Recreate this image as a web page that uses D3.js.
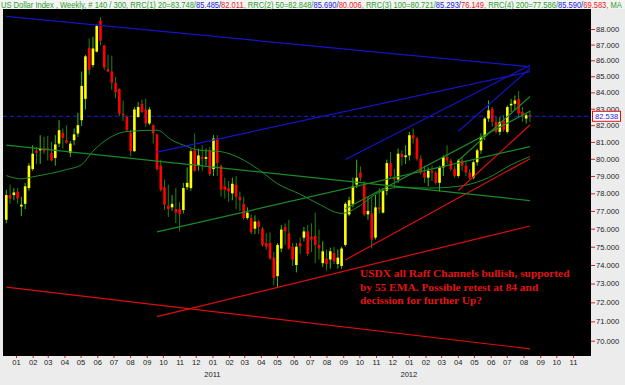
<!DOCTYPE html>
<html>
<head>
  <title>US Dollar Index Weekly</title>
  <script src="https://d3js.org/d3.v7.min.js"></script>
  <style>
    body { margin: 0; background: #ececec; }
    svg { display: block; }
  </style>
</head>
<body>
  <div id="chart"></div>
  <script>
    // weekly bars, Monday dates starting here
    const firstBar = new Date(2009, 11, 14);

    const opens = [76.5,77.9,77.9,78.1,77.25,77.4,78.3,79.4,80.5,80.5, 80.6,80.6,80.35,80.05,80.9,81.55,81.1,80.35,81.1,81.5,
      82.3,83.6,86.8,85.7,86.55,88.55,86.95,85.45,85.3,84.6, 84.2,82.7,82.5,81.55,80.45,82.5,83.3,82.95,82.1,82.0,
      81.45,79.6,78.35,77.3,77.2,77.1,77.1,77.05,78.35,78.3, 80.5,79.6,80.1,80.0,80.5,79.4,81.2,79.6,78.4,78.3,
      78.0,78.5,77.8,77.4,76.6,76.6,76.0,76.4,76.0,75.2, 75.2,74.4,73.4,74.9,76.1,75.75,75.0,74.0,75.2,75.5,
      75.85,75.55,75.6,75.1,74.1,74.35,74.3,74.65,74.05,73.95, 75.1,76.8,77.4,78.5,79.2,78.5,76.8,76.85,75.5,77.2,
      76.9,78.15,79.75,78.9,78.8,80.3,80.1,80.2,81.4,81.2, 80.0,79.2,78.9,79.3,79.2,78.6,79.5,80.1,79.9,79.4,
      79.0,79.9,79.6,79.2,78.9,79.8,80.5,81.3,82.4,83.0, 82.2,81.6,82.3,81.6,83.2,83.3,83.6,82.8,82.4,82.6];
    const highs = [78.2,78.5,78.3,78.3,77.8,78.6,79.75,80.8,80.7,81.4, 81.3,81.35,81.0,81.4,82.3,81.8,82.0,81.05,81.8,82.75,
      85.3,86.35,87.4,87.5,88.3,88.76,86.98,86.35,86.3,84.95, 84.25,83.5,82.6,81.7,83.1,83.4,83.55,83.6,83.1,82.05,
      81.5,79.95,78.8,78.5,77.9,78.3,77.5,78.6,79.5,80.6, 81.5,80.6,80.8,80.6,80.7,81.4,81.4,79.65,78.9,78.7,
      78.9,79.0,78.1,77.8,77.2,76.8,76.75,76.5,76.1,75.75, 75.8,74.7,75.2,76.2,76.3,76.5,75.2,75.2,75.5,76.1,
      76.2,76.3,76.9,75.95,75.3,74.85,74.95,75.0,74.85,75.0, 77.5,77.8,78.9,79.95,79.55,78.7,77.8,77.8,77.9,78.3,
      78.3,79.95,80.4,79.4,80.6,80.5,80.8,81.6,81.8,81.3, 80.2,79.6,79.5,79.6,79.3,79.6,80.2,80.8,80.0,79.6,
      80.0,80.1,79.9,79.4,79.9,80.6,81.5,82.5,83.5,83.1, 82.5,82.5,82.6,83.2,83.6,83.8,84.1,83.1,82.7,82.9];
    const lows = [76.3,77.4,77.6,77.4,76.7,77.1,78.15,79.3,79.7,79.7, 80.3,79.9,79.85,79.6,80.7,80.6,80.9,80.1,80.8,81.3,
      81.95,82.95,85.1,85.55,86.5,86.95,85.4,85.25,84.15,83.65, 82.55,82.25,81.6,80.15,80.4,82.45,82.75,81.9,82.0,80.9,
      79.3,78.1,77.05,76.65,77.0,76.3,75.85,76.85,78.2,78.15, 79.25,79.3,79.3,79.6,79.0,79.0,79.0,77.8,77.7,77.5,
      77.6,77.1,77.0,76.5,76.5,75.7,75.7,75.7,75.0,74.85, 74.3,72.9,72.75,74.7,75.1,74.85,73.95,73.6,74.6,75.3,
      74.5,74.7,74.1,74.3,73.9,73.7,73.8,74.05,73.8,73.8, 75.0,76.7,77.2,78.3,78.7,76.7,76.5,74.9,75.4,76.85,
      76.85,77.9,78.9,78.3,78.6,79.6,79.7,79.9,80.9,79.9, 79.1,78.6,78.4,78.7,78.5,78.1,79.0,79.7,79.3,78.9,
      78.9,79.3,79.0,78.8,78.8,79.6,80.3,81.1,82.2,81.9, 81.5,81.4,81.6,81.5,82.8,82.9,82.5,82.2,82.1,82.2];
    const closes = [77.9,77.7,78.05,77.7,77.35,78.4,79.6,80.3,80.35,80.6, 80.45,80.5,79.9,80.85,81.7,81.25,80.95,80.9,81.45,82.0,
      84.4,86.25,85.4,86.75,88.2,87.25,85.55,85.3,84.6,84.0, 82.7,82.6,81.7,80.45,82.95,83.1,82.8,82.1,82.95,81.5,
      79.4,78.2,77.35,77.1,77.4,76.9,76.8,78.3,78.6,80.45, 79.3,80.2,80.0,80.1,79.1,81.2,79.75,78.2,78.2,78.1,
      78.55,77.8,77.6,76.6,76.9,75.8,76.4,76.1,75.1,75.0, 74.35,73.3,75.1,75.95,75.85,74.9,74.3,75.0,75.0,75.85,
      74.6,75.4,75.1,74.9,74.75,74.05,74.75,74.2,74.4,74.9, 77.4,77.6,78.4,78.9,78.9,76.8,77.0,75.4,77.2,77.1,
      78.15,79.75,79.0,78.8,80.3,80.1,80.2,81.4,81.2,80.0, 79.2,78.9,79.3,79.2,78.6,79.5,80.1,79.9,79.4,79.0,
      79.9,79.6,79.2,78.9,79.8,80.5,81.3,82.4,82.9,82.2, 81.6,82.2,81.7,83.1,83.3,83.5,82.7,82.6,82.6,82.54];

    // Raff regression channels: first bar, mid at start, and mid/upper/lower at last bar
    const rrcNames = ["RRC(1) 20", "RRC(2) 50", "RRC(3) 100", "RRC(4) 200"];
    const rrcStartBar = [120, 90, 40, 0];
    const rrcMidStart = [79.9, 77.12, 75.82, 80.81];
    const rrcMidEnd = [83.748, 82.848, 80.721, 77.586];
    const rrcUpperEnd = [85.485, 85.690, 85.293, 85.590];
    const rrcLowerEnd = [82.011, 80.006, 76.149, 69.583];

    // 55 EMA at some bars
    const emaBars = [0, 4, 7, 16, 20, 23, 28, 32, 40, 44, 48, 51, 57, 62, 67, 72, 78, 83, 89, 94, 98, 104, 112, 120, 128, 134, 139];
    const emaValues = [79.02, 78.83, 78.95, 79.37, 79.66, 80.45, 81.32, 81.62, 81.70, 81.1, 80.73, 80.51, 80.42, 80.04, 79.37,
      78.55, 77.95, 77.38, 76.86, 77.31, 77.95, 78.33, 78.3, 78.4, 78.9, 79.65, 80.13];

    const lastPrice = 82.538;
    const priceTicks = d3.range(70, 89);
    const yearLabels = ["2011", "2012"];
    const note = ["USDX all Raff Channels bullish, supported",
                  "by 55 EMA. Possible retest at 84 and",
                  "decission for further Up?"];

    const W = 625, H = 385;
    const plot = {left: 3, right: 591, top: 9, bottom: 356};
    const sans = "'Liberation Sans', Arial, sans-serif";

    const dates = opens.map((d, i) => d3.timeWeek.offset(firstBar, i));
    const bars = opens.map((o, i) => ({date: dates[i], o: o, h: highs[i], l: lows[i], c: closes[i]}));

    const x = d3.scaleTime()
      .domain([new Date(2010, 0, 1), new Date(2012, 10, 1)])
      .range([16, 573]);
    const y = d3.scaleLog()
      .domain([88, 70])
      .range([29, 340.7]);

    const svg = d3.select("#chart").append("svg")
      .attr("width", W)
      .attr("height", H);

    svg.append("rect").attr("width", W).attr("height", H).attr("fill", "#ececec");
    svg.append("rect").attr("width", W).attr("height", plot.top).attr("fill", "#f4f4f4");

    svg.append("clipPath").attr("id", "clip")
      .append("rect")
      .attr("x", plot.left).attr("y", plot.top)
      .attr("width", plot.right - plot.left).attr("height", plot.bottom - plot.top);

    svg.append("rect")
      .attr("x", plot.left).attr("y", plot.top)
      .attr("width", plot.right - plot.left).attr("height", plot.bottom - plot.top)
      .attr("fill", "#000");

    const g = svg.append("g").attr("clip-path", "url(#clip)");

    // last price line
    g.append("line")
      .attr("x1", plot.left).attr("x2", plot.right)
      .attr("y1", y(lastPrice)).attr("y2", y(lastPrice))
      .attr("stroke", "#1c1ce0").attr("stroke-width", 1)
      .attr("stroke-dasharray", "4,3");

    // candles
    const bw = 2.6;
    const candle = g.selectAll(".candle").data(bars).join("g").attr("class", "candle");
    candle.append("line")
      .attr("x1", d => x(d.date)).attr("x2", d => x(d.date))
      .attr("y1", d => y(d.h)).attr("y2", d => y(d.l))
      .attr("stroke", d => d.c >= d.o ? "#3cbc10" : "#23820a")
      .attr("stroke-width", 1);
    candle.append("rect")
      .attr("x", d => x(d.date) - bw / 2)
      .attr("y", d => y(Math.max(d.o, d.c)))
      .attr("width", bw)
      .attr("height", d => Math.max(1, Math.abs(y(d.o) - y(d.c))))
      .attr("fill", d => d.c >= d.o ? "#ffff00" : "#ff0000");

    // 55 EMA
    const ema = emaBars.map((b, i) => [x(dates[b]), y(emaValues[i])]);
    g.append("path")
      .attr("d", d3.line().curve(d3.curveMonotoneX)(ema))
      .attr("fill", "none")
      .attr("stroke", "#1f8a2a")
      .attr("stroke-width", 1);

    // channels
    const lastBar = dates.length - 1;
    rrcNames.forEach((name, i) => {
      const x0 = x(dates[rrcStartBar[i]]), x1 = x(dates[lastBar]);
      const up = rrcUpperEnd[i] - rrcMidEnd[i];
      const dn = rrcMidEnd[i] - rrcLowerEnd[i];
      const lines = [
        [rrcMidStart[i] + up, rrcUpperEnd[i], "#1414c8"],
        [rrcMidStart[i], rrcMidEnd[i], "#1b8a28"],
        [rrcMidStart[i] - dn, rrcLowerEnd[i], "#dc0e0e"]
      ];
      lines.forEach(l => {
        g.append("line")
          .attr("x1", x0).attr("x2", x1)
          .attr("y1", y(l[0])).attr("y2", y(l[1]))
          .attr("stroke", l[2]).attr("stroke-width", 1.2);
      });
    });

    // annotation
    const noteText = svg.append("g")
      .attr("font-family", "'Liberation Serif', serif")
      .attr("font-size", 11.4)
      .attr("font-weight", "bold")
      .attr("fill", "#e01414");
    note.forEach((t, i) => {
      noteText.append("text")
        .attr("x", 360).attr("y", 277 + i * 13.6)
        .text(t);
    });

    // right axis
    const yAxis = svg.append("g")
      .attr("transform", `translate(${plot.right},0)`)
      .call(d3.axisRight(y).tickValues(priceTicks).tickFormat(d3.format(".3f")).tickSize(4).tickPadding(1));
    yAxis.select(".domain").remove();
    yAxis.selectAll(".tick line").attr("stroke", "#e02020");
    yAxis.selectAll(".tick text")
      .attr("fill", "#222")
      .attr("font-family", sans)
      .attr("font-size", 7.6);

    // last value box
    svg.append("rect")
      .attr("x", 592.5).attr("y", y(lastPrice) - 5)
      .attr("width", 28).attr("height", 10)
      .attr("fill", "#fff").attr("stroke", "#e01010").attr("stroke-width", 1);
    svg.append("text")
      .attr("x", 595).attr("y", y(lastPrice) + 3)
      .attr("font-family", sans)
      .attr("font-size", 7.6)
      .attr("fill", "#1a1ae0")
      .text(d3.format(".3f")(lastPrice));

    // bottom axis
    const xAxis = svg.append("g")
      .attr("transform", `translate(0,${plot.bottom})`)
      .call(d3.axisBottom(x).ticks(d3.timeMonth.every(1)).tickFormat(d3.timeFormat("%m")).tickSize(2).tickPadding(2));
    xAxis.select(".domain").remove();
    xAxis.selectAll(".tick line").attr("stroke", "#e02020");
    xAxis.selectAll(".tick text")
      .attr("fill", "#222")
      .attr("font-family", sans)
      .attr("font-size", 7.6);

    yearLabels.forEach(yr => {
      svg.append("text")
        .attr("x", x(new Date(+yr, 0, 1)))
        .attr("y", 377)
        .attr("text-anchor", "middle")
        .attr("font-family", sans)
        .attr("font-size", 7.6)
        .attr("fill", "#222")
        .text(yr);
    });

    // title, squeezed horizontally to fit the row
    const f3 = d3.format(".3f");
    const titleG = svg.append("g");
    const title = titleG.append("text")
      .attr("x", 0).attr("y", 0)
      .attr("font-family", sans)
      .attr("font-size", 8.6);
    title.append("tspan").attr("fill", "#2aa02a").text("US Dollar Index , Weekly, # 140 / 300");
    rrcNames.forEach((name, i) => {
      title.append("tspan").attr("fill", "#2aa02a").text(`, ${name}=${f3(rrcMidEnd[i])}/`);
      title.append("tspan").attr("fill", "#2222dd").text(`${f3(rrcUpperEnd[i])}/`);
      title.append("tspan").attr("fill", "#ee2222").text(f3(rrcLowerEnd[i]));
    });
    title.append("tspan").attr("fill", "#2aa02a").text(", MA");
    const tw = title.node().getComputedTextLength();
    titleG.attr("transform", `translate(1,7.6) scale(${622 / tw},1)`);
  </script>
</body>
</html>
